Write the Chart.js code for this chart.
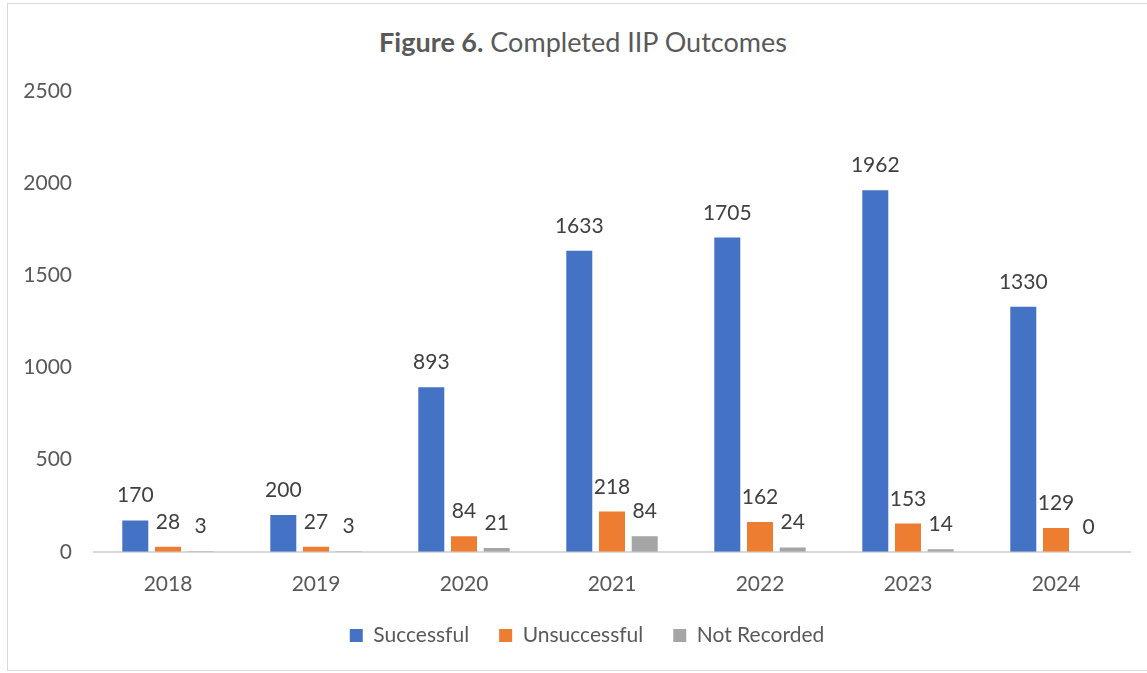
<!DOCTYPE html>
<html>
<head>
<meta charset="utf-8">
<script src="https://cdn.jsdelivr.net/npm/chart.js@4"></script>
<style>
  html, body { margin: 0; padding: 0; background: #fff; }
  body { width: 1147px; height: 673px; position: relative; overflow: hidden; font-family: Lato, "Open Sans", sans-serif; }
  #frame { position: absolute; left: 7px; top: 3px; width: 1140px; height: 668px; border: 1px solid #d9d9d9; border-right: none; box-sizing: border-box; }
  #title { position: absolute; left: 0; width: 1166px; top: 25px; text-align: center; font-size: 27px; color: #595959; line-height: 34px; }
  #wrap { position: absolute; left: 0; top: 0; width: 1147px; height: 673px; }
</style>
</head>
<body>
<div id="frame"></div>
<div id="title"><b>Figure 6.</b> Completed IIP Outcomes</div>
<div id="wrap"><canvas id="c" width="1147" height="673"></canvas></div>
<script>
const categories = ["2018", "2019", "2020", "2021", "2022", "2023", "2024"];
const successful = [170, 200, 893, 1633, 1705, 1962, 1330];
const unsuccessful = [28, 27, 84, 218, 162, 153, 129];
const notRecorded = [3, 3, 21, 84, 24, 14, 0];
const seriesNames = ["Successful", "Unsuccessful", "Not Recorded"];
const seriesColors = ["#4472C4", "#ED7D31", "#A5A5A5"];
const yTicks = [0, 500, 1000, 1500, 2000, 2500];

const FONT = "Lato, 'Open Sans', sans-serif";

const labelPlugin = {
  id: "barLabels",
  afterDatasetsDraw(chart) {
    const ctx = chart.ctx;
    ctx.save();
    ctx.font = "21px " + FONT;
    ctx.fillStyle = "#404040";
    ctx.textAlign = "center";
    ctx.textBaseline = "alphabetic";
    chart.data.datasets.forEach((ds, i) => {
      const meta = chart.getDatasetMeta(i);
      meta.data.forEach((bar, j) => {
        ctx.fillText(String(ds.data[j]), bar.x, bar.y - 18);
      });
    });
    ctx.restore();
  }
};

const legendShift = {
  id: "legendShift",
  afterLayout(chart) {
    if (chart.legend) {
      chart.legend.left += 44;
      chart.legend.width -= 44;
    }
  }
};

new Chart(document.getElementById("c"), {
  type: "bar",
  data: {
    labels: categories,
    datasets: [
      { label: seriesNames[0], data: successful, backgroundColor: seriesColors[0] },
      { label: seriesNames[1], data: unsuccessful, backgroundColor: seriesColors[1] },
      { label: seriesNames[2], data: notRecorded, backgroundColor: seriesColors[2] }
    ]
  },
  options: {
    responsive: false,
    animation: false,
    layout: { padding: { top: 91, right: 17, left: 0, bottom: 17 } },
    datasets: { bar: { categoryPercentage: 0.663, barPercentage: 0.795 } },
    plugins: {
      title: { display: false },
      tooltip: { enabled: false },
      legend: {
        position: "bottom",
        labels: {
          boxWidth: 13, boxHeight: 13, padding: 30,
          color: "#595959",
          font: { family: FONT, size: 21 }
        }
      }
    },
    scales: {
      x: {
        afterFit(scale) { scale.height = scale.height - 22; },
        grid: { display: false, drawTicks: false },
        border: { display: true, color: "#D9D9D9", width: 2 },
        ticks: { color: "#595959", padding: 20, font: { family: FONT, size: 21 } }
      },
      y: {
        min: 0, max: 2500,
        afterFit(scale) { scale.width = 94; },
        afterBuildTicks(scale) { scale.ticks = yTicks.map(v => ({ value: v })); },
        grid: { display: false, drawTicks: false },
        border: { display: false },
        ticks: { color: "#595959", padding: 22, callback: v => String(v), font: { family: FONT, size: 21 } }
      }
    }
  },
  plugins: [labelPlugin, legendShift]
});
</script>
</body>
</html>
